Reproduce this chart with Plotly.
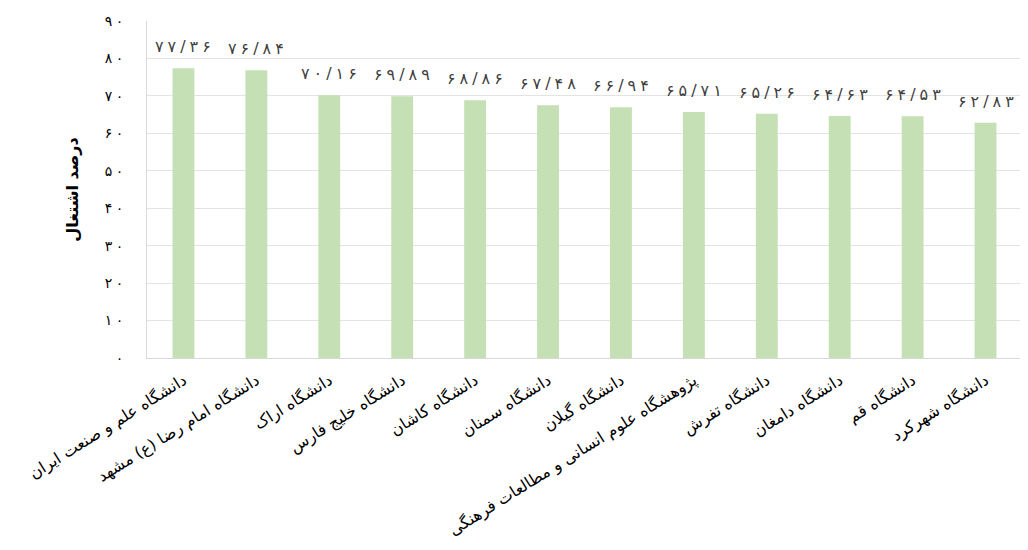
import plotly.graph_objects as go

categories = [
    "دانشگاه علم و صنعت ایران",
    "دانشگاه امام رضا (ع) مشهد",
    "دانشگاه اراک",
    "دانشگاه خلیج فارس",
    "دانشگاه کاشان",
    "دانشگاه سمنان",
    "دانشگاه گیلان",
    "پژوهشگاه علوم انسانی و مطالعات فرهنگی",
    "دانشگاه تفرش",
    "دانشگاه دامغان",
    "دانشگاه قم",
    "دانشگاه شهرکرد",
]
values = [77.36, 76.84, 70.16, 69.89, 68.86, 67.48, 66.94, 65.71, 65.26, 64.63, 64.53, 62.83]
y_tick_values = [0, 10, 20, 30, 40, 50, 60, 70, 80, 90]
y_title = "درصد اشتغال"

FA = str.maketrans("0123456789.", "۰۱۲۳۴۵۶۷۸۹/")
SP = "\u2005"

def fa(s):
    return SP.join(str(s).translate(FA))

labels = [fa(f"{v:.2f}") for v in values]
y_tick_text = [fa(v) for v in y_tick_values]

font_family = "DejaVu Sans, Noto Sans, sans-serif"

fig = go.Figure(go.Bar(
    x=categories,
    y=values,
    marker=dict(color="#c5e0b4", line=dict(width=0)),
    cliponaxis=False,
    hoverinfo="x+y",
))

for c, v, t in zip(categories, values, labels):
    fig.add_annotation(
        x=c, y=v, text=t, showarrow=False,
        yanchor="bottom", yshift=10,
        font=dict(family=font_family, size=16, color="#404040"),
    )

fig.update_layout(
    width=1020,
    height=542,
    margin=dict(l=139, r=6, t=13, b=192),
    paper_bgcolor="white",
    plot_bgcolor="white",
    bargap=0.7,
    showlegend=False,
    font=dict(family=font_family, color="#000000"),
)
fig.update_xaxes(
    tickangle=-32,
    tickfont=dict(family=font_family, size=16, color="#000000"),
    ticklabelstandoff=6,
    showline=True,
    linecolor="#d9d9d9",
    linewidth=1,
    showgrid=False,
    automargin=False,
)
fig.update_yaxes(
    range=[0, 90],
    tickvals=y_tick_values,
    ticktext=y_tick_text,
    tickfont=dict(family=font_family, size=14, color="#000000"),
    ticklabelstandoff=20,
    showgrid=True,
    gridcolor="#e3e3e3",
    gridwidth=1,
    showline=True,
    linecolor="#d9d9d9",
    linewidth=1,
    zeroline=False,
    automargin=False,
    title=dict(text="<b>" + y_title + "</b>", font=dict(family=font_family, size=16, color="#000000"), standoff=22),
)

fig.write_html("out.html")
